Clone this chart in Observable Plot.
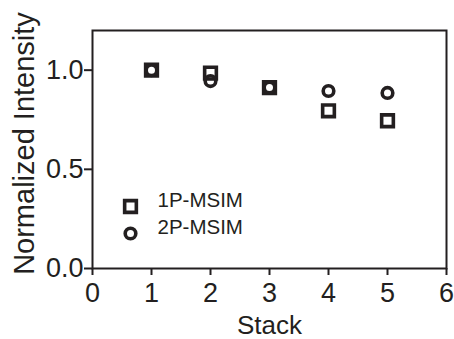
<!DOCTYPE html>
<html>
<head>
<meta charset="utf-8">
<script src="https://cdn.jsdelivr.net/npm/d3@7"></script>
<script src="https://cdn.jsdelivr.net/npm/@observablehq/plot@0.6"></script>
<style>
  html, body { margin: 0; padding: 0; background: #fff; }
</style>
</head>
<body>
<div id="chart"></div>
<script>
const stacks = [1, 2, 3, 4, 5];
const p1 = [1.0, 0.985, 0.912, 0.795, 0.745];
const p2 = [1.0, 0.945, 0.912, 0.895, 0.885];
const seriesNames = ["1P-MSIM", "2P-MSIM"];
const xTicks = [0, 1, 2, 3, 4, 5, 6];
const yTicks = [0, 0.5, 1.0];
const xLabel = "Stack";
const yLabel = "Normalized Intensity";

const ink = "#231f20";
const font = "'Liberation Sans', Arial, sans-serif";
const fmtY = d3.format(".1f");

const chart = Plot.plot({
  width: 454,
  height: 339,
  marginLeft: 92,
  marginRight: 8,
  marginTop: 30,
  marginBottom: 71,
  style: { fontFamily: font, fontSize: "27px", background: "#fff", color: ink },
  x: { domain: [0, 6], ticks: xTicks },
  y: { domain: [0, 1.2], ticks: yTicks },
  marks: [
    Plot.frame({ stroke: ink, strokeWidth: 2 }),
    Plot.axisX({ ticks: xTicks, tickFormat: () => "", tickSize: 7, label: null, stroke: ink, strokeWidth: 2 }),
    Plot.axisY({ ticks: yTicks, tickFormat: () => "", tickSize: 8, label: null, stroke: ink, strokeWidth: 2 }),
    Plot.text(xTicks, { x: d => d, text: d => String(d), frameAnchor: "bottom", lineAnchor: "top", textAnchor: "middle", dy: 14, fontSize: 27, fill: ink }),
    Plot.text(yTicks, { y: d => d, text: d => fmtY(d), frameAnchor: "left", lineAnchor: "middle", textAnchor: "end", dx: -9, fontSize: 27, fill: ink }),
    Plot.text([xLabel], { text: d => d, frameAnchor: "bottom", lineAnchor: "top", textAnchor: "middle", dy: 47, fontSize: 26, fill: ink }),
    Plot.text([yLabel], { text: d => d, frameAnchor: "left", textAnchor: "middle", dx: -68, dy: -6, rotate: -90, fontSize: 29, fill: ink }),
    Plot.dot(stacks, { x: (d, i) => stacks[i], y: (d, i) => p1[i], symbol: "square", r: 6.6, stroke: ink, strokeWidth: 3.6, fill: "none" }),
    Plot.dot(stacks, { x: (d, i) => stacks[i], y: (d, i) => p2[i], symbol: "circle", r: 5.3, stroke: ink, strokeWidth: 3.6, fill: "none" }),
    Plot.dot([seriesNames[0]], { frameAnchor: "bottom-left", dx: 38, dy: -62, symbol: "square", r: 6.6, stroke: ink, strokeWidth: 3.6, fill: "none" }),
    Plot.dot([seriesNames[1]], { frameAnchor: "bottom-left", dx: 38, dy: -35, symbol: "circle", r: 5.3, stroke: ink, strokeWidth: 3.6, fill: "none" }),
    Plot.text([seriesNames[0]], { text: d => d, frameAnchor: "bottom-left", dx: 65, dy: -62, textAnchor: "start", fontSize: 20.5, fill: ink }),
    Plot.text([seriesNames[1]], { text: d => d, frameAnchor: "bottom-left", dx: 65, dy: -35, textAnchor: "start", fontSize: 20.5, fill: ink })
  ]
});
document.getElementById("chart").appendChild(chart);
</script>
</body>
</html>
